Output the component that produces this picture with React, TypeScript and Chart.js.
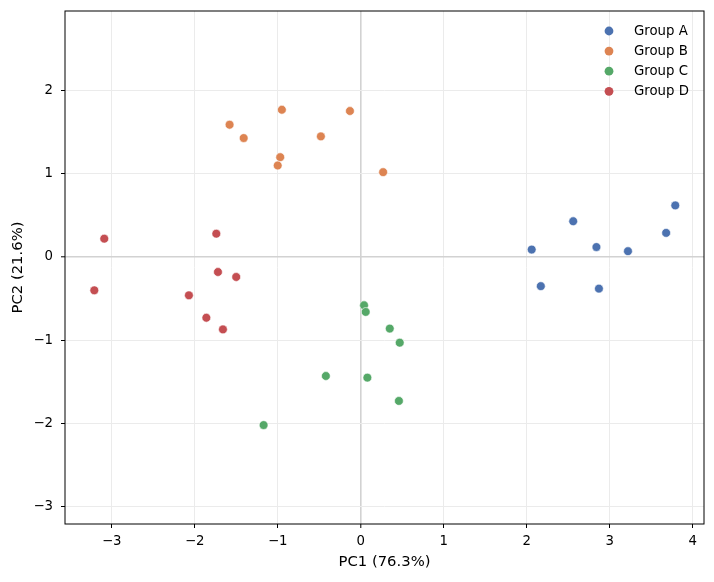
import React, { useEffect, useRef } from 'react';
import { Chart, registerables } from 'chart.js';

Chart.register(...registerables);

const groupLabels = ['Group A', 'Group B', 'Group C', 'Group D'];
const groupColors = ['#4c72b0', '#dd8452', '#55a868', '#c44e52'];

const groupAx = [2.06, 2.17, 2.56, 2.84, 2.87, 3.22, 3.68, 3.79];
const groupAy = [0.09, -0.35, 0.43, 0.12, -0.38, 0.07, 0.29, 0.62];
const groupBx = [-1.58, -1.41, -0.95, -0.97, -1.0, -0.48, -0.13, 0.27];
const groupBy = [1.59, 1.43, 1.77, 1.2, 1.1, 1.45, 1.755, 1.02];
const groupCx = [0.04, 0.06, 0.35, 0.47, -0.42, 0.08, 0.46, -1.17];
const groupCy = [-0.58, -0.66, -0.86, -1.03, -1.43, -1.45, -1.73, -2.02];
const groupDx = [-3.09, -1.74, -1.72, -1.5, -3.21, -2.07, -1.86, -1.66];
const groupDy = [0.22, 0.28, -0.18, -0.24, -0.4, -0.46, -0.73, -0.87];

const xTicks = [-3, -2, -1, 0, 1, 2, 3, 4];
const yTicks = [-3, -2, -1, 0, 1, 2];
const xRange = [-3.563, 4.136];
const yRange = [-3.209, 2.957];

const xTitle = 'PC1 (76.3%)';
const yTitle = 'PC2 (21.6%)';

const FONT = '"DejaVu Sans", sans-serif';

const fmt = (v: number) => (v < 0 ? '\u2212' + Math.abs(v) : String(v));

// frame on all four sides plus a frameless legend in the upper right
const frameAndLegend = {
  id: 'frameAndLegend',
  afterDraw(chart: any) {
    const { ctx, chartArea } = chart;
    ctx.save();
    ctx.strokeStyle = '#000';
    ctx.lineWidth = 1;
    ctx.strokeRect(
      chartArea.left,
      chartArea.top,
      chartArea.right - chartArea.left,
      chartArea.bottom - chartArea.top
    );
    ctx.font = '13.3px ' + FONT;
    ctx.textBaseline = 'middle';
    ctx.textAlign = 'left';
    chart.data.datasets.forEach((ds: any, i: number) => {
      const y = chartArea.top + 20 + i * 20.1;
      ctx.beginPath();
      ctx.arc(chartArea.right - 95, y, 4.4, 0, Math.PI * 2);
      ctx.fillStyle = ds.backgroundColor;
      ctx.fill();
      ctx.fillStyle = '#000';
      ctx.fillText(ds.label, chartArea.right - 70, y + 0.5);
    });
    ctx.restore();
  },
};

const gridColor = (c: any) => (c.tick && c.tick.value === 0 ? '#d2d2d2' : '#ebebeb');
const gridWidth = (c: any) => (c.tick && c.tick.value === 0 ? 1.6 : 1);

const App: React.FC = () => {
  const canvasRef = useRef<HTMLCanvasElement | null>(null);

  useEffect(() => {
    if (!canvasRef.current) return;
    const xs = [groupAx, groupBx, groupCx, groupDx];
    const ys = [groupAy, groupBy, groupCy, groupDy];

    const chart = new Chart(canvasRef.current, {
      type: 'scatter',
      data: {
        datasets: groupLabels.map((label, i) => ({
          label,
          data: xs[i].map((x, j) => ({ x, y: ys[i][j] })),
          backgroundColor: groupColors[i],
          borderColor: '#ffffff',
          borderWidth: 0.6,
          pointRadius: 4.4,
          pointHoverRadius: 4.4,
        })),
      },
      options: {
        responsive: false,
        animation: false,
        layout: { padding: { top: 11, right: 10, left: 0, bottom: 0 } },
        plugins: {
          legend: { display: false },
          tooltip: { enabled: false },
        },
        scales: {
          x: {
            type: 'linear',
            min: xRange[0],
            max: xRange[1],
            afterBuildTicks: (axis: any) => {
              axis.ticks = xTicks.map((value) => ({ value }));
            },
            afterFit: (axis: any) => {
              axis.height = 58;
              axis.paddingLeft = 0;
              axis.paddingRight = 0;
            },
            border: { display: false },
            grid: {
              color: gridColor,
              lineWidth: gridWidth,
              tickColor: '#000',
              tickLength: 4,
              tickWidth: 1,
            },
            ticks: {
              color: '#000',
              font: { family: FONT, size: 13.3 },
              padding: 6,
              maxRotation: 0,
              callback: (v: any) => fmt(Number(v)),
            },
            title: {
              display: true,
              text: xTitle,
              color: '#000',
              font: { family: FONT, size: 14.8 },
              padding: { top: 0, bottom: 11 },
            },
          },
          y: {
            type: 'linear',
            min: yRange[0],
            max: yRange[1],
            afterBuildTicks: (axis: any) => {
              axis.ticks = yTicks.map((value) => ({ value }));
            },
            afterFit: (axis: any) => {
              axis.width = 65;
              axis.paddingTop = 0;
              axis.paddingBottom = 0;
            },
            border: { display: false },
            grid: {
              color: gridColor,
              lineWidth: gridWidth,
              tickColor: '#000',
              tickLength: 4,
              tickWidth: 1,
            },
            ticks: {
              color: '#000',
              font: { family: FONT, size: 13.3 },
              padding: 8,
              callback: (v: any) => fmt(Number(v)),
            },
            title: {
              display: true,
              text: yTitle,
              color: '#000',
              font: { family: FONT, size: 14.8 },
              padding: { top: 9.5, bottom: 0 },
            },
          },
        },
      },
      plugins: [frameAndLegend],
    });

    return () => {
      chart.destroy();
    };
  }, []);

  return (
    <div style={{ position: 'absolute', top: 0, left: 0, width: 714, height: 582, background: '#fff' }}>
      <canvas ref={canvasRef} width={714} height={582} />
    </div>
  );
};

export default App;
